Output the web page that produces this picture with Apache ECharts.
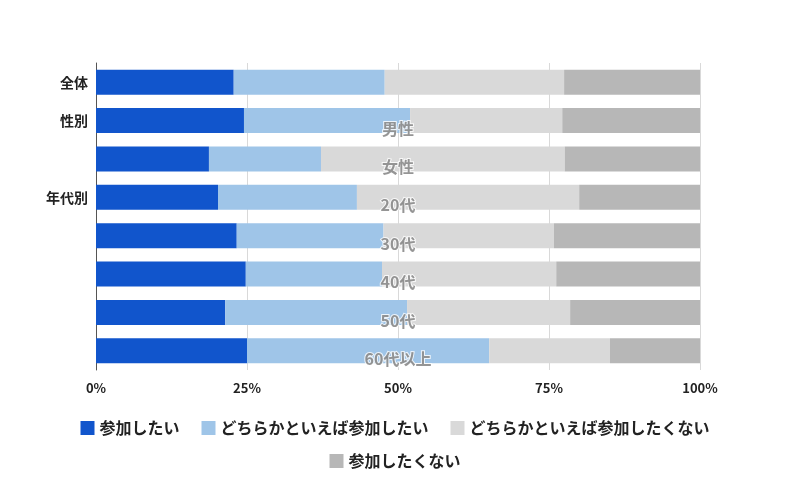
<!DOCTYPE html>
<html>
<head>
<meta charset="utf-8">
<script src="https://cdn.jsdelivr.net/npm/echarts@6/dist/echarts.min.js"></script>
<style>html,body{margin:0;padding:0;background:#fff}#c{width:790px;height:500px}</style>
</head>
<body>
<div id="c"></div>
<script>
const categories = ['全体','男性','女性','20代','30代','40代','50代','60代以上'];
const axisLabels = ['全体','性別','','年代別','','','',''];
const innerLabels = ['','男性','女性','20代','30代','40代','50代','60代以上'];
const seriesNames = ['参加したい','どちらかといえば参加したい','どちらかといえば参加したくない','参加したくない'];
const want = [22.8, 24.5, 18.7, 20.2, 23.3, 24.8, 21.4, 25.0];
const ratherWant = [25.0, 27.5, 18.55, 23.0, 24.3, 22.55, 30.1, 40.1];
const ratherNot = [29.7, 25.2, 40.35, 36.8, 28.2, 28.85, 27.0, 20.0];
const notWant = [22.5, 22.8, 22.4, 20.0, 24.2, 23.8, 21.5, 14.9];
const xTicks = [0, 25, 50, 75, 100];
const colors = ['#1155cc','#9fc5e8','#d9d9d9','#b7b7b7'];
const values = [want, ratherWant, ratherNot, notWant];
const font = '"Noto Sans CJK JP", "Noto Sans", sans-serif';

const chart = echarts.init(document.getElementById('c'));
const series = seriesNames.map((n, i) => ({
  name: n, type: 'bar', stack: 'total', barWidth: 25,
  itemStyle: { color: colors[i] },
  data: values[i]
}));
series.push({
  type: 'scatter', symbolSize: 0, silent: true,
  data: categories.map((c, i) => ({ value: [50, c], name: innerLabels[i] })),
  label: {
    show: true, position: 'inside', offset: [0, 8],
    formatter: p => p.name,
    color: '#7a7a7a', fontSize: 16, fontWeight: 'bold', fontFamily: font,
    textBorderColor: '#ffffff', textBorderWidth: 2
  }
});
const legendText = { fontSize: 16, color: '#222', fontFamily: font, fontWeight: 'bold' };
chart.setOption({
  animation: false,
  textStyle: { fontFamily: font },
  grid: { left: 96, right: 90, top: 63, height: 307, containLabel: false },
  legend: [{
    data: seriesNames.slice(0, 3), top: 415, left: 'center',
    icon: 'rect', itemWidth: 14, itemHeight: 14, itemGap: 22,
    textStyle: legendText
  }, {
    data: seriesNames.slice(3), top: 448, left: 'center',
    icon: 'rect', itemWidth: 14, itemHeight: 14, itemGap: 22,
    textStyle: legendText
  }],
  xAxis: {
    type: 'value', min: 0, max: 100, interval: 25,
    axisLabel: { formatter: v => xTicks.includes(v) ? v + '%' : '', fontSize: 13, fontWeight: 'bold', color: '#222', margin: 12 },
    splitLine: { lineStyle: { color: '#d9d9d9' } },
    axisLine: { show: false }, axisTick: { show: false }
  },
  yAxis: {
    type: 'category', data: categories, inverse: true,
    axisLabel: { formatter: (v, i) => axisLabels[i], fontSize: 14, fontWeight: 'bold', color: '#222', margin: 8 },
    axisLine: { lineStyle: { color: '#555' } },
    axisTick: { show: false }
  },
  series: series
});
</script>
</body>
</html>
